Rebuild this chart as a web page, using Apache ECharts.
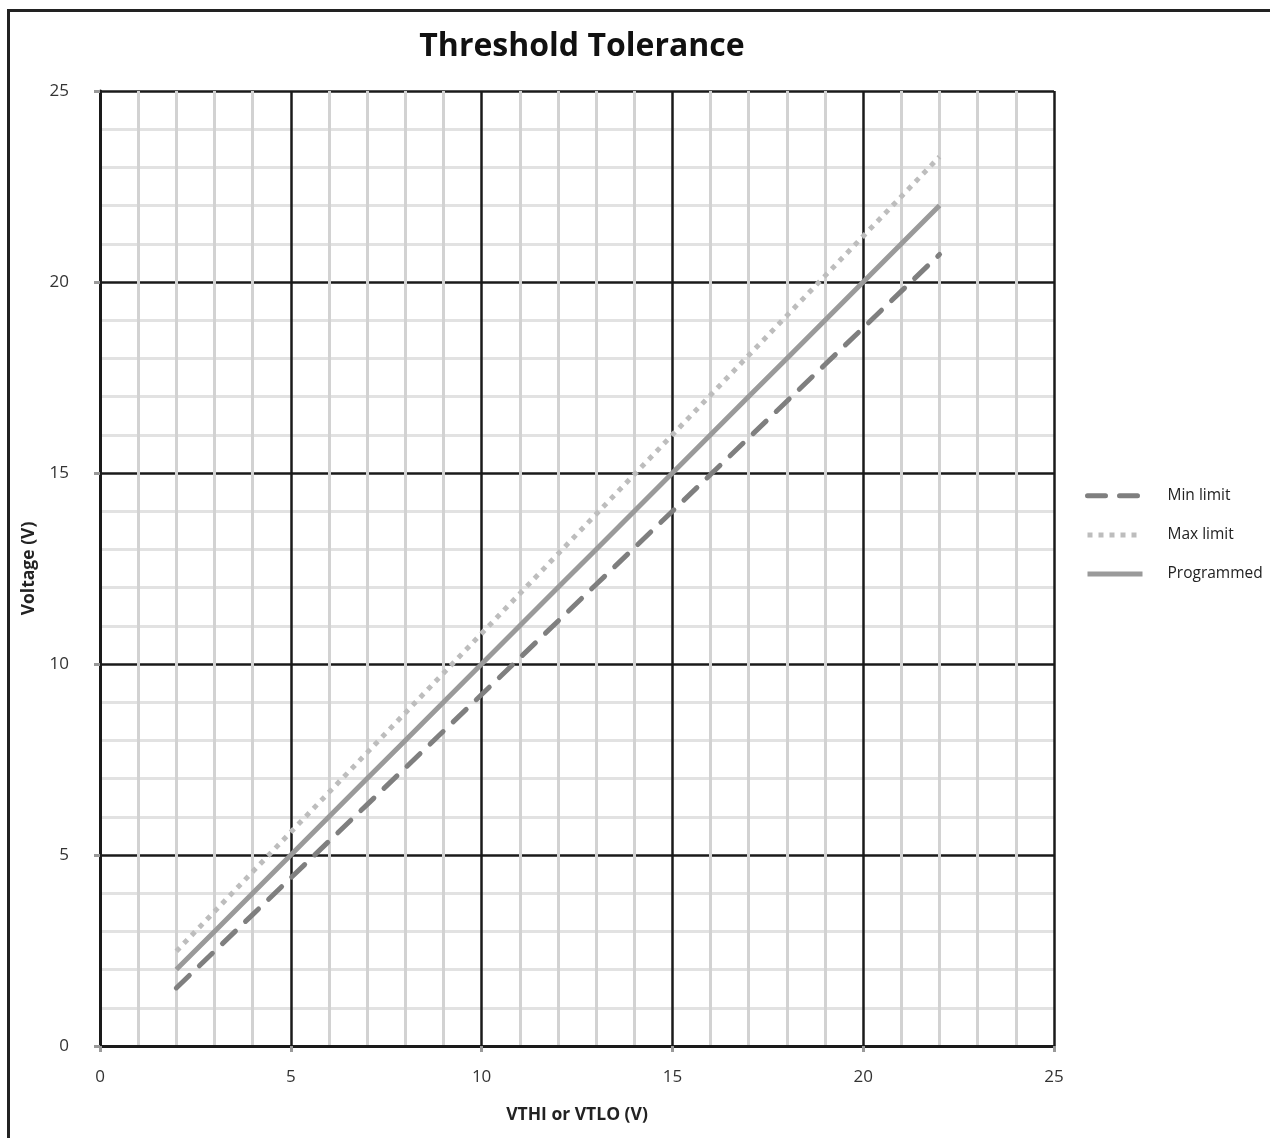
<!DOCTYPE html>
<html>
<head>
<meta charset="utf-8">
<script src="https://cdn.jsdelivr.net/npm/echarts@6/dist/echarts.min.js"></script>
<style>html,body{margin:0;padding:0;background:#fff;}#chart{width:1270px;height:1138px;}</style>
</head>
<body>
<div id="chart"></div>
<script>
const xValues = [2,3,4,5,6,7,8,9,10,11,12,13,14,15,16,17,18,19,20,21,22];
const minLimit = [1.52,2.48,3.44,4.40,5.36,6.32,7.28,8.24,9.20,10.16,11.12,12.08,13.04,14.00,14.96,15.92,16.88,17.84,18.80,19.76,20.72];
const maxLimit = [2.48,3.52,4.56,5.60,6.64,7.68,8.72,9.76,10.80,11.84,12.88,13.92,14.96,16.00,17.04,18.08,19.12,20.16,21.20,22.24,23.28];
const programmed = [2,3,4,5,6,7,8,9,10,11,12,13,14,15,16,17,18,19,20,21,22];
const seriesNames = ['Min limit','Max limit','Programmed'];

const pairs = arr => xValues.map((x,i)=>[x,arr[i]]);
const FONT = '"Open Sans", "Noto Sans", sans-serif';

function axis(name, isX){
  return {
    type:'value', min:0, max:25, interval:5,
    name:name, nameLocation:'middle', nameGap: isX ? 60 : 62,
    nameTextStyle:{fontFamily:FONT,fontWeight:'bold',fontSize:17.5,color:'#222'},
    axisLine:{show:true,lineStyle:{color:'#1a1a1a',width:3}},
    axisTick:{show:true,length:6,lineStyle:{color:'#999',width:3}},
    axisLabel:{fontFamily:FONT,fontSize:17,color:'#333',margin: isX ? 23 : 31},
    splitLine:{show:true,lineStyle:{color:'#1a1a1a',width:2.5}},
    minorTick:{show:false,splitNumber:5},
    minorSplitLine:{show:true,lineStyle:{color: isX ? '#d2d2d2' : '#e2e2e2',width:3}}
  };
}

const chart = echarts.init(document.getElementById('chart'),null,{renderer:'canvas'});
chart.setOption({
  animation:false,
  backgroundColor:'#fff',
  title:{text:'Threshold Tolerance',left:577,textAlign:'center',top:26,
    textStyle:{fontFamily:FONT,fontWeight:'bold',fontSize:32,color:'#111'}},
  grid:{left:100,right:216,top:91,bottom:92,containLabel:false},
  xAxis:axis('VTHI or VTLO (V)',true),
  yAxis:axis('Voltage (V)',false),
  legend:{orient:'vertical',left:1080,top:482,itemGap:21.5,itemWidth:55,itemHeight:22,
    data:seriesNames,
    itemStyle:{opacity:0},
    lineStyle:{width:5},
    formatter:'{t|{name}}',
    textStyle:{fontFamily:FONT,fontSize:15.5,color:'#222',
      rich:{t:{fontFamily:FONT,fontSize:15.5,color:'#222',padding:[0,0,0,20]}}}},
  graphic:[
    {type:'line',shape:{x1:8.5,y1:9,x2:8.5,y2:1138},style:{stroke:'#222',lineWidth:3}},
    {type:'line',shape:{x1:7,y1:10.5,x2:1270,y2:10.5},style:{stroke:'#222',lineWidth:3}}
  ],
  series:[
    {name:seriesNames[0],type:'line',data:pairs(minLimit),symbol:'none',
      lineStyle:{color:'#7f7f7f',width:5,type:[18,14],cap:'round'},itemStyle:{color:'#7f7f7f'},z:3},
    {name:seriesNames[1],type:'line',data:pairs(maxLimit),symbol:'none',
      lineStyle:{color:'#bdbdbd',width:5,type:[5,6]},itemStyle:{color:'#bdbdbd'},z:3},
    {name:seriesNames[2],type:'line',data:pairs(programmed),symbol:'none',
      lineStyle:{color:'#9a9a9a',width:5},itemStyle:{color:'#9a9a9a'},z:4}
  ]
});
</script>
</body>
</html>
